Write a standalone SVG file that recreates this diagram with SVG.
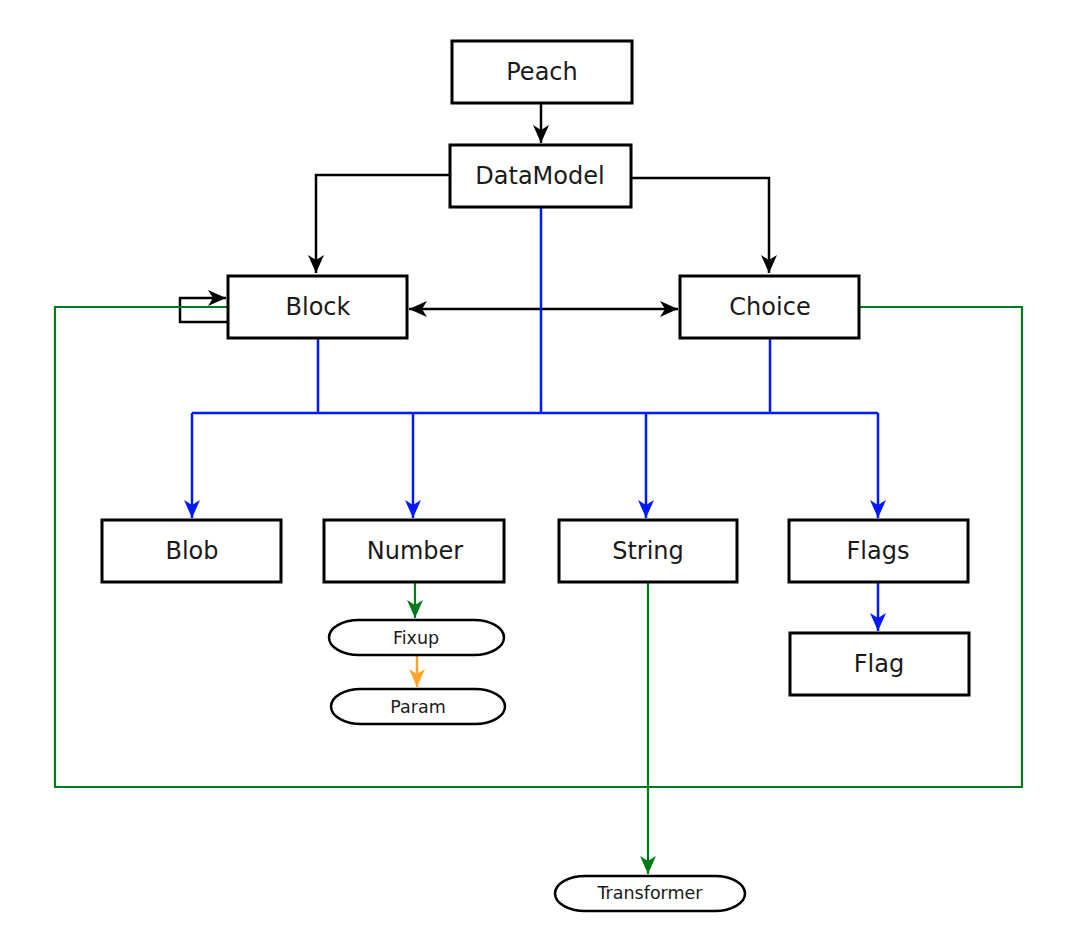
<svg xmlns="http://www.w3.org/2000/svg" width="1069" height="932" viewBox="0 0 1069 932">
<style>
.box{fill:#fff;stroke:#000;stroke-width:3}
.pill{fill:#fff;stroke:#000;stroke-width:2.5}
.t{font-family:"DejaVu Sans",sans-serif;font-size:24px;fill:#1a1a1a;text-anchor:middle;dominant-baseline:central}
.s{font-family:"DejaVu Sans",sans-serif;font-size:17.5px;fill:#1a1a1a;text-anchor:middle;dominant-baseline:central}
.k{fill:none;stroke:#000;stroke-width:2.5}
.b{fill:none;stroke:#0019ff;stroke-width:2.5}
.g{fill:none;stroke:#007a1a;stroke-width:2.2}
.o{fill:none;stroke:#ffa626;stroke-width:2.5}
</style>
<defs>
<marker id="ak" viewBox="0 0 18 16" refX="18" refY="8" markerWidth="18" markerHeight="16" markerUnits="userSpaceOnUse" orient="auto-start-reverse"><path d="M0,0 L18,8 L0,16 L5,8 Z" fill="#000"/></marker>
<marker id="ab" viewBox="0 0 18 16" refX="18" refY="8" markerWidth="18" markerHeight="16" markerUnits="userSpaceOnUse" orient="auto"><path d="M0,0 L18,8 L0,16 L5,8 Z" fill="#0019ff"/></marker>
<marker id="ag" viewBox="0 0 18 16" refX="18" refY="8" markerWidth="18" markerHeight="16" markerUnits="userSpaceOnUse" orient="auto"><path d="M0,0 L18,8 L0,16 L5,8 Z" fill="#007a1a"/></marker>
<marker id="ao" viewBox="0 0 18 16" refX="18" refY="8" markerWidth="18" markerHeight="16" markerUnits="userSpaceOnUse" orient="auto"><path d="M0,0 L18,8 L0,16 L5,8 Z" fill="#ffa626"/></marker>
</defs>
<rect width="1069" height="932" fill="#fff"/>
<g id="connectors">
<path class="k" d="M541,103 V143" marker-end="url(#ak)"/>
<path class="k" d="M450,175 H316 V273" marker-end="url(#ak)"/>
<path class="k" d="M631,178 H769 V273" marker-end="url(#ak)"/>
<path class="k" d="M409,309 H678" marker-start="url(#ak)" marker-end="url(#ak)"/>
<path class="k" d="M228,322 H180 V298 H226" marker-end="url(#ak)"/>
<path class="g" d="M859,307 H1022 V787 H55 V307 H228"/>
<path class="g" d="M648,582 V874" marker-end="url(#ag)"/>
<path class="g" d="M415,582 V618" marker-end="url(#ag)"/>
<path class="o" d="M417,655 V687" marker-end="url(#ao)"/>
<path class="b" d="M541,207 V413 M318,338 V413 M770,338 V413 M192,413 H878"/>
<path class="b" d="M192,413 V518" marker-end="url(#ab)"/>
<path class="b" d="M413,413 V518" marker-end="url(#ab)"/>
<path class="b" d="M646,413 V518" marker-end="url(#ab)"/>
<path class="b" d="M878,413 V518" marker-end="url(#ab)"/>
<path class="b" d="M878,582 V631" marker-end="url(#ab)"/>
</g>
<g id="peach"><rect class="box" x="452" y="41" width="180" height="62"/><text class="t" x="542" y="72">Peach</text></g>
<g id="datamodel"><rect class="box" x="450" y="145" width="181" height="62"/><text class="t" x="540" y="176">DataModel</text></g>
<g id="block"><rect class="box" x="228" y="276" width="179" height="62"/><text class="t" x="318" y="307">Block</text></g>
<g id="choice"><rect class="box" x="680" y="276" width="179" height="62"/><text class="t" x="770" y="307">Choice</text></g>
<g id="blob"><rect class="box" x="102" y="520" width="179" height="62"/><text class="t" x="192" y="551">Blob</text></g>
<g id="number"><rect class="box" x="324" y="520" width="180" height="62"/><text class="t" x="415" y="551">Number</text></g>
<g id="string"><rect class="box" x="559" y="520" width="178" height="62"/><text class="t" x="648" y="551">String</text></g>
<g id="flags"><rect class="box" x="789" y="520" width="179" height="62"/><text class="t" x="878" y="551">Flags</text></g>
<g id="flag"><rect class="box" x="790" y="633" width="179" height="62"/><text class="t" x="879" y="664">Flag</text></g>
<g id="fixup"><rect class="pill" x="329" y="620" width="175" height="35" rx="30" ry="17.5"/><text class="s" x="416" y="638">Fixup</text></g>
<g id="param"><rect class="pill" x="331" y="689" width="174" height="35" rx="30" ry="17.5"/><text class="s" x="418" y="707">Param</text></g>
<g id="transformer"><rect class="pill" x="555" y="876" width="190" height="35" rx="30" ry="17.5"/><text class="s" x="650" y="893">Transformer</text></g>
</svg>
